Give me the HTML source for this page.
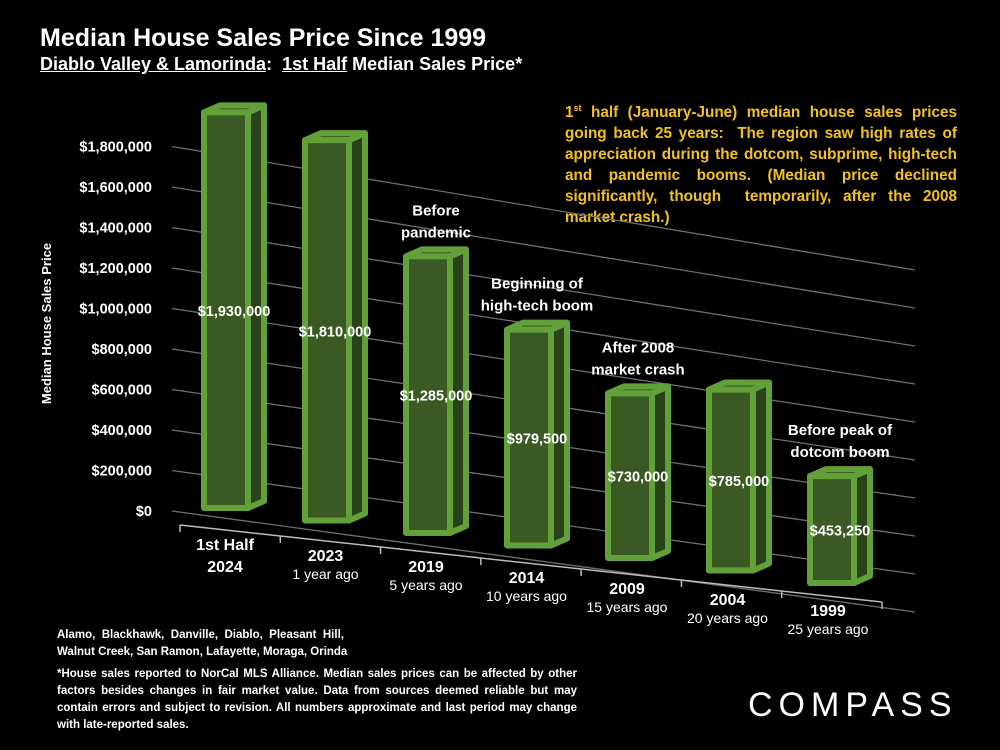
<!DOCTYPE html>
<html><head><meta charset="utf-8"><style>
body{margin:0;background:#000;}
#wrap{position:relative;width:1000px;height:750px;background:#000;overflow:hidden;font-family:"Liberation Sans",sans-serif;color:#fff;}
.t{position:absolute;white-space:nowrap;}
</style></head><body>
<div id="wrap">
<div class="t" style="left:40px;top:24px;font-size:25px;font-weight:bold;">Median House Sales Price Since 1999</div>
<div class="t" style="left:40px;top:54px;font-size:18px;font-weight:bold;"><u>Diablo Valley &amp; Lamorinda</u>:&nbsp; <u>1st Half</u> Median Sales Price*</div>
<div class="t" style="left:565px;top:98px;width:392px;white-space:normal;text-align:justify;font-size:15.3px;font-weight:bold;color:#f2c21a;line-height:21px;">1<sup style="font-size:9px">st</sup> half (January-June) median house sales prices going back 25 years:&nbsp; The region saw high rates of appreciation during the dotcom, subprime, high-tech and pandemic booms. (Median price declined significantly, though&nbsp; temporarily, after the 2008 market crash.)</div>
<div class="t" style="left:-34px;top:316px;font-size:13px;font-weight:bold;transform:rotate(-90deg);">Median House Sales Price</div>
<svg id="chart" width="1000" height="750" style="position:absolute;left:0;top:0"></svg>
<div class="t" style="left:57px;top:627px;font-size:11.5px;font-weight:bold;line-height:17px;">Alamo,&nbsp; Blackhawk,&nbsp; Danville,&nbsp; Diablo,&nbsp; Pleasant&nbsp; Hill,<br>Walnut Creek, San Ramon, Lafayette, Moraga, Orinda</div>
<div class="t" style="left:57px;top:666px;width:520px;white-space:normal;text-align:justify;font-size:11.5px;font-weight:bold;line-height:17px;">*House sales reported to NorCal MLS Alliance. Median sales prices can be affected by other factors besides changes in fair market value. Data from sources deemed reliable but may contain errors and subject to revision. All numbers approximate and last period may change with late-reported sales.</div>
<div class="t" style="left:748px;top:686px;font-size:34px;letter-spacing:6px;">COMPASS</div>
</div>
<script>
const categories=["1st Half|2024","2023|1 year ago","2019|5 years ago","2014|10 years ago","2009|15 years ago","2004|20 years ago","1999|25 years ago"];
const values=[1930000,1810000,1285000,979500,730000,785000,453250];
const valueLabels=["$1,930,000","$1,810,000","$1,285,000","$979,500","$730,000","$785,000","$453,250"];
const yTicks=[0,200000,400000,600000,800000,1000000,1200000,1400000,1600000,1800000];
const yTickLabels=["$0","$200,000","$400,000","$600,000","$800,000","$1,000,000","$1,200,000","$1,400,000","$1,600,000","$1,800,000"];
const annotations=[[2,"Before|pandemic"],[3,"Beginning of|high-tech boom"],[4,"After 2008|market crash"],[6,"Before peak of|dotcom boom"]];
const svg=document.getElementById('chart');const NS="http://www.w3.org/2000/svg";
function mk(tag,attrs){const e=document.createElementNS(NS,tag);for(const k in attrs)e.setAttribute(k,attrs[k]);svg.appendChild(e);return e;}
const yL=v=>511-v/200000*40.5, yR=v=>612-v/200000*38;
yTicks.forEach((v,i)=>{
 const l=mk('line',{x1:172,y1:yL(v),x2:915,y2:yR(v),stroke:'#6e6e6e','stroke-width':1.3});
 
 const t=mk('text',{x:152,y:yL(v)+5,'text-anchor':'end',fill:'#fff','font-size':14.5,'font-weight':'bold','font-family':'Liberation Sans, sans-serif'});
 t.textContent=yTickLabels[i];
 
});
const ax=mk('line',{x1:180,y1:525,x2:882,y2:602,stroke:'#bbb','stroke-width':1.5});

const n=categories.length;
const xLeft=i=>204+i*101;
const baseY=i=>508+12.5*i;
const hOf=(v,i)=>v*0.000205*(1+0.025*i);
for(let i=0;i<=n;i++){const x=180+i*(702/n);const y=525+i*(77/n);
 const tk=mk('line',{x1:x,y1:y,x2:x,y2:y+7,stroke:'#bbb','stroke-width':1.5});
 }
const W=44,DX=16,DY=7;
values.forEach((v,i)=>{
 const x=xLeft(i),b=baseY(i),h=hOf(v,i),top=b-h;
 const g=document.createElementNS(NS,'g');svg.appendChild(g);
 
 
 const add=(tag,a)=>{const e=document.createElementNS(NS,tag);for(const k in a)e.setAttribute(k,a[k]);g.appendChild(e);return e;};
 add('polygon',{points:`${x+W},${top} ${x+W+DX},${top-DY} ${x+W+DX},${b-DY} ${x+W},${b}`,fill:'#2a4219',stroke:'#62a03a','stroke-width':6,'stroke-linejoin':'round'});
 add('polygon',{points:`${x},${top} ${x+DX},${top-DY} ${x+W+DX},${top-DY} ${x+W},${top}`,fill:'#3a5a22',stroke:'#62a03a','stroke-width':6,'stroke-linejoin':'round'});
 add('rect',{x:x,y:top,width:W,height:h,fill:'#3b5a23',stroke:'#62a03a','stroke-width':6,'stroke-linejoin':'round'});
 const t=mk('text',{x:x+W/2+8,y:top+h*0.5+6,'text-anchor':'middle',fill:'#fff','font-size':14.5,'font-weight':'bold','font-family':'Liberation Sans, sans-serif'});
 t.textContent=valueLabels[i];
 
 const [a,c]=categories[i].split('|');const cx=225+i*100.5,cy=550+i*(77/n);
 const t1=mk('text',{x:cx,y:cy,'text-anchor':'middle',fill:'#fff','font-size':16,'font-weight':'bold','font-family':'Liberation Sans, sans-serif'});
 t1.textContent=a;
 const t2=mk('text',{x:cx,y:cy+(i==0?22:18),'text-anchor':'middle',fill:'#fff','font-size':i==0?16:14,'font-weight':i==0?'bold':'normal','font-family':'Liberation Sans, sans-serif'});
 t2.textContent=c;
});
annotations.forEach(([i,s])=>{
 const x=xLeft(i)+W/2+8,top=baseY(i)-hOf(values[i],i)-DY;
 s.split('|').forEach((line,k)=>{
  const t=mk('text',{x:x,y:top-34+k*22,'text-anchor':'middle',fill:'#fff','font-size':15,'font-weight':'bold','font-family':'Liberation Sans, sans-serif'});
  t.textContent=line;
 });
});
</script>
</body></html>
